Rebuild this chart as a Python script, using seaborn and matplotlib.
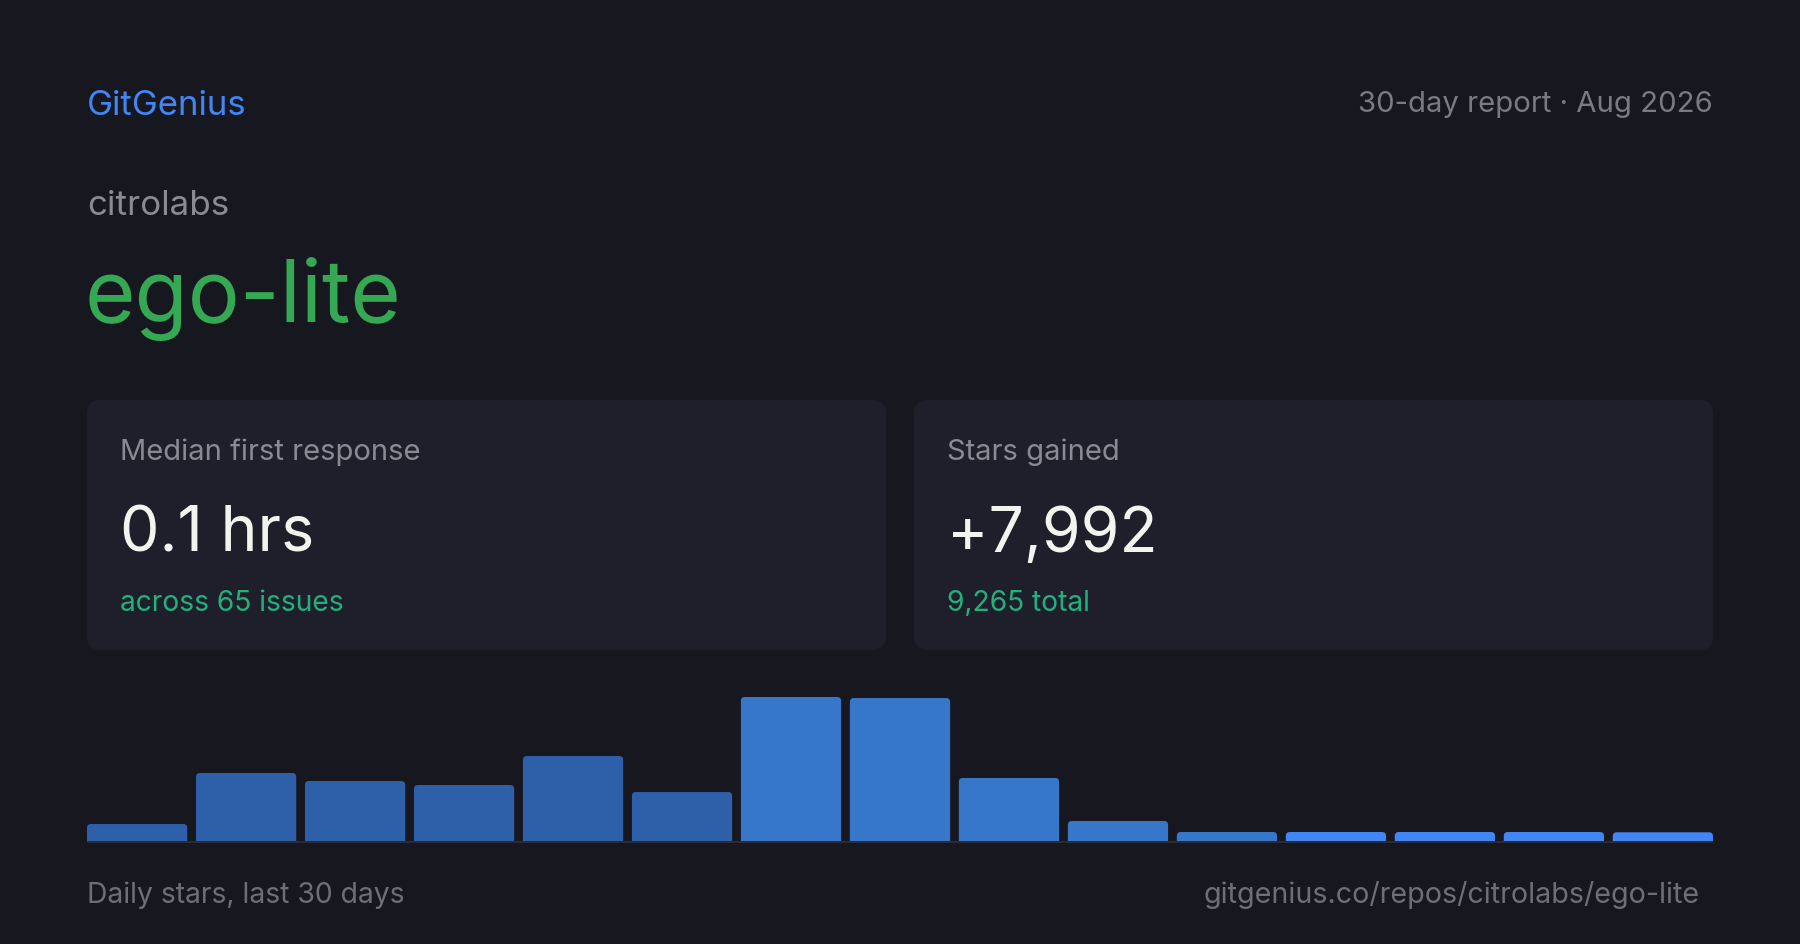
import matplotlib
matplotlib.use("Agg")
import matplotlib.pyplot as plt
import seaborn as sns
import pandas as pd
from matplotlib.patches import FancyBboxPatch

# Daily stars over the last 30 days, grouped in 2-day buckets
periods = ["Jul 3-4", "Jul 5-6", "Jul 7-8", "Jul 9-10", "Jul 11-12",
           "Jul 13-14", "Jul 15-16", "Jul 17-18", "Jul 19-20", "Jul 21-22",
           "Jul 23-24", "Jul 25-26", "Jul 27-28", "Jul 29-30", "Jul 31-Aug 1"]
stars = [181, 725, 640, 597, 906, 522, 1535, 1524, 672, 213, 96, 96, 96, 96, 93]

# card texts
owner = "citrolabs"
repo = "ego-lite"
card_labels = ["Median first response", "Stars gained"]
card_values = ["0.1 hrs", "+7,992"]
card_subs = ["across 65 issues", "9,265 total"]

# colours
BG = "#17171f"
CARD = "#1f1f2b"
bar_colors = ["#2e5fa9"] * 6 + ["#3777c9"] * 5 + ["#4285f4"] * 4

sns.set_theme(style="white")
plt.rcParams["font.family"] = ["Inter", "DejaVu Sans"]

df = pd.DataFrame({"period": periods, "stars": stars})

fig = plt.figure(figsize=(18, 9.45), dpi=100, facecolor=BG)

# full-figure layer in pixel coordinates for the card layout
lay = fig.add_axes([0, 0, 1, 1])
lay.set_xlim(0, 1800)
lay.set_ylim(945, 0)
lay.axis("off")
lay.set_facecolor(BG)

lay.text(87, 115, "GitGenius", color="#4285f4", fontsize=25, va="baseline")
lay.text(1713, 112, "30-day report \u00b7 Aug 2026", color="#7a7a84",
         fontsize=21.1, va="baseline", ha="right")
lay.text(87, 215, owner, color="#8a8a94", fontsize=25.2, va="baseline")
lay.text(85, 322, repo, color="#34a853", fontsize=62.5, va="baseline")

for i, x0 in enumerate([87, 914]):
    lay.add_patch(FancyBboxPatch((x0, 401), 799, 250,
                                 boxstyle="round,pad=0,rounding_size=14",
                                 facecolor=CARD, edgecolor="none"))
    lay.text(x0 + 33, 460, card_labels[i], color="#8a8a94", fontsize=21,
             va="baseline")
    lay.text(x0 + 33, 552, card_values[i], color="#f4f4ef", fontsize=45,
             va="baseline")
    lay.text(x0 + 33, 611, card_subs[i], color="#22b07d", fontsize=20.3,
             va="baseline")

# baseline under the bars
lay.plot([87, 1713], [843, 843], color="#2b2b37", lw=1.5, solid_capstyle="butt")

lay.text(87, 903, "Daily stars, last 30 days", color="#6e6e78", fontsize=20.4,
         va="baseline")
lay.text(1700, 903, "gitgenius.co/repos/citrolabs/ego-lite", color="#6e6e78",
         fontsize=20.6, va="baseline", ha="right")

# bar chart
ax = fig.add_axes([87 / 1800, 1 - 842 / 945, 1626 / 1800, 144 / 945])
sns.barplot(data=df, x="period", y="stars", hue="period", palette=bar_colors,
            legend=False, width=0.92, saturation=1, ax=ax)
ax.set_xlim(-0.46, len(periods) - 0.54)
ax.set_ylim(0, max(stars))
ax.axis("off")
ax.patch.set_alpha(0)

# round the top corners of the bars
x_per_px = (len(periods) - 1 + 0.92) / 1626
y_per_px = max(stars) / 144
aspect = y_per_px / x_per_px
r = 4 * x_per_px
for p in list(ax.patches):
    x, w, h = p.get_x(), p.get_width(), p.get_height()
    fc = p.get_facecolor()
    p.remove()
    ext = r * aspect
    ax.add_patch(FancyBboxPatch((x, -ext), w, h + ext,
                                boxstyle=f"round,pad=0,rounding_size={r}",
                                mutation_aspect=aspect,
                                facecolor=fc, edgecolor="none"))

fig.savefig("out.png", dpi=100, facecolor=BG)
